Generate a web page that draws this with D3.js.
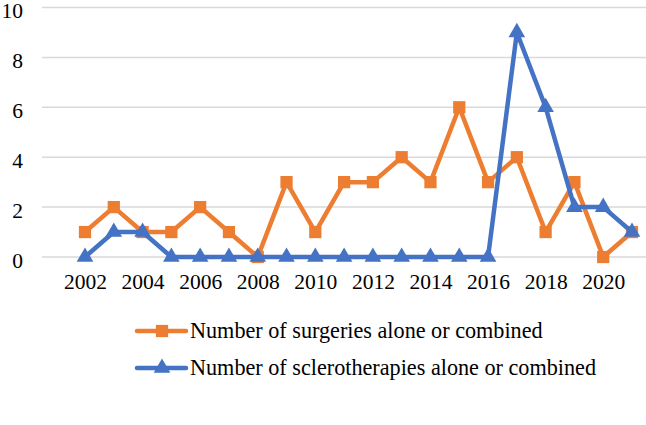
<!DOCTYPE html>
<html><head><meta charset="utf-8">
<script src="https://cdn.jsdelivr.net/npm/d3@7"></script>
<style>body{margin:0;background:#fff}svg{display:block}</style>
</head><body>
<script>
const years = [2002,2003,2004,2005,2006,2007,2008,2009,2010,2011,2012,2013,2014,2015,2016,2017,2018,2019,2020,2021];
const surgeries = [1,2,1,1,2,1,0,3,1,3,3,4,3,6,3,4,1,3,0,1];
const scleros = [0,1,1,0,0,0,0,0,0,0,0,0,0,0,0,9,6,2,2,1];
const yTicks = [0,2,4,6,8,10];
const xTickLabels = [2002,2004,2006,2008,2010,2012,2014,2016,2018,2020];
const seriesNames = ["Number of surgeries alone or combined","Number of sclerotherapies alone or combined"];
const colors = ["#ED7D31","#4472C4"];

const W=646,H=425;
const font = "'Liberation Serif', serif";
const svg = d3.select("body").append("svg").attr("width",W).attr("height",H);

const x = d3.scalePoint().domain(years).range([85,632]);
const y = d3.scaleLinear().domain([0,10]).range([257,7.5]);

// gridlines
svg.append("g").selectAll("line").data(yTicks).join("line")
  .attr("x1",42).attr("x2",646).attr("y1",d=>y(d)).attr("y2",d=>y(d))
  .attr("stroke","#D9D9D9").attr("stroke-width",1.5);

// y axis labels
const yAxis = d3.axisLeft(y).tickValues(yTicks).tickSize(0).tickPadding(0);
const gy = svg.append("g").attr("transform","translate(23,3)").call(yAxis);
gy.select(".domain").remove();
gy.selectAll("text").attr("font-family",font).attr("font-size",21.5).attr("fill","#000").attr("dy","0.34em");

// x axis labels
const xAxis = d3.axisBottom(x).tickValues(xTickLabels).tickSize(0).tickPadding(0).tickFormat(d3.format("d"));
const gx = svg.append("g").attr("transform","translate(0,289)").call(xAxis);
gx.select(".domain").remove();
gx.selectAll("text").attr("font-family",font).attr("font-size",21.5).attr("fill","#000").attr("dy","0");

const line = d3.line().x((d,i)=>x(years[i])).y(d=>y(d));
const sq = d3.symbol().type(d3.symbolSquare).size(150);
const tri = d3.symbol().type(d3.symbolTriangle).size(120);

function drawSeries(vals, color, sym){
  svg.append("path").datum(vals).attr("d",line).attr("fill","none")
    .attr("stroke",color).attr("stroke-width",4.5).attr("stroke-linejoin","round");
  svg.append("g").selectAll("path").data(vals).join("path")
    .attr("d",sym).attr("fill",color)
    .attr("transform",(d,i)=>`translate(${x(years[i])},${y(d)})`);
}
drawSeries(surgeries, colors[0], sq);
drawSeries(scleros, colors[1], tri);

// legend
const legY = [331,368];
const syms=[sq,tri];
seriesNames.forEach((name,i)=>{
  const g = svg.append("g");
  g.append("line").attr("x1",137).attr("x2",186).attr("y1",legY[i]).attr("y2",legY[i])
    .attr("stroke",colors[i]).attr("stroke-width",4.5).attr("stroke-linecap","round");
  g.append("path").attr("d",syms[i]).attr("fill",colors[i]).attr("transform",`translate(162,${legY[i]})`);
  g.append("text").attr("x",190).attr("y",legY[i]+6.5).attr("font-family",font).attr("font-size",22.2)
    .attr("fill","#000").text(name);
});
</script>
</body></html>
